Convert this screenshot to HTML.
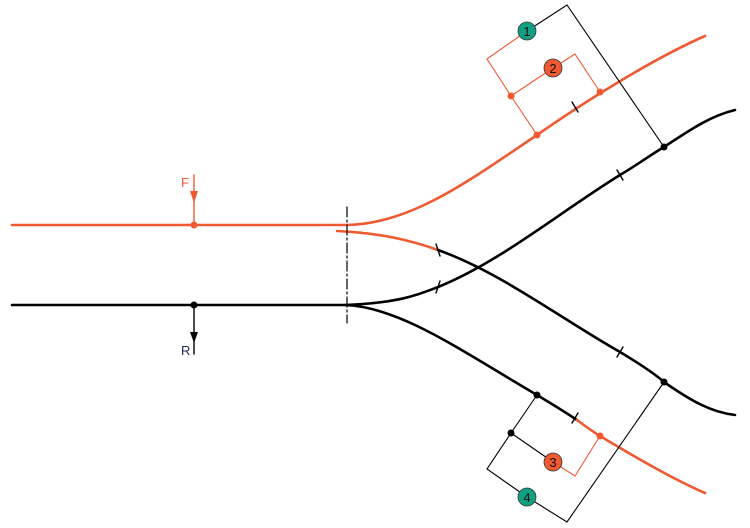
<!DOCTYPE html>
<html><head><style>html,body{margin:0;padding:0;background:#fff}svg{display:block}</style></head><body>
<svg width="750" height="528" viewBox="0 0 750 528" xmlns="http://www.w3.org/2000/svg" font-family="Liberation Sans, sans-serif">
<g fill="none" stroke-linecap="round">
<!-- main orange -->
<path d="M12,225 L345,225 C410,225 470,180 537,135 C580,105 650,60 705,36" stroke="#f05a32" stroke-width="2.6"/>
<path d="M337,231 C380,233 410,240 438,250" stroke="#f05a32" stroke-width="2.6"/>
<path d="M438,250 C500,272 560,318 620,352 C640,364 655,374 664,382 C690,400 710,412 735,415" stroke="#000" stroke-width="2.6"/>
<!-- black -->
<path d="M12,305 L345,305 C400,303 420,294 438,287 C500,262 560,212 620,175 C640,163 652,154 664,147 C690,130 710,116 735,110" stroke="#000" stroke-width="2.6"/>
<path d="M345,305 C400,307 460,350 537,395 C552,404 565,412 577,420" stroke="#000" stroke-width="2.6"/>
<path d="M577,420 C585,426 592,431 600,436 C640,460 675,480 705,493" stroke="#f05a32" stroke-width="2.6"/>
<!-- dash dot -->
<path d="M347,207 L347,323" stroke="#000" stroke-width="1.2" stroke-dasharray="10,3,2,3"/>
<!-- ticks -->
<g stroke="#000" stroke-width="1.4">
<path d="M436,244 L440,256"/><path d="M436,293 L440,281"/><path d="M572,102 L578,112"/>
<path d="M617,170 L623,180"/><path d="M617,357 L623,347"/><path d="M572,423 L578,413"/>
</g>
<!-- connectors -->
<path d="M527,31 L567,5 L664,147" stroke="#000" stroke-width="1.1"/>
<path d="M527,31 L487,59 L511,96 L537,135 M511,96 L553,68 L575,54 L600,92" stroke="#f05a32" stroke-width="1.1"/>
<path d="M537,395 L511,433 L487,469 L527,497 L567,522 L664,382 M511,433 L553,462" stroke="#000" stroke-width="1.1"/>
<path d="M553,462 L575,476 L600,436" stroke="#f05a32" stroke-width="1.1"/>
<!-- arrows -->
<path d="M194,175 L194,225" stroke="#f05a32" stroke-width="1.4"/>
<path d="M194,305 L194,354" stroke="#000" stroke-width="1.4"/>
</g>
<path d="M190,191 L198,191 L194,203 Z" fill="#f05a32"/>
<path d="M190,332 L198,332 L194,343 Z" fill="#000"/>
<text x="181" y="187" font-size="13" fill="#f05a32">F</text>
<text x="181" y="355" font-size="13" fill="#1a2a5a">R</text>
<!-- dots -->
<g fill="#f05a32"><circle cx="194" cy="225" r="3.5"/><circle cx="537" cy="135" r="3.5"/><circle cx="511" cy="96" r="3.5"/><circle cx="600" cy="92" r="3.5"/><circle cx="600" cy="436" r="3.5"/></g>
<g fill="#000"><circle cx="194" cy="305" r="3.5"/><circle cx="664" cy="147" r="3.5"/><circle cx="664" cy="382" r="3.5"/><circle cx="537" cy="395" r="3.5"/><circle cx="511" cy="433" r="3.5"/></g>
<!-- badges -->
<g stroke="#333" stroke-width="0.8" font-size="13" text-anchor="middle">
<circle cx="527" cy="31" r="9" fill="#12a085"/><circle cx="553" cy="68" r="9" fill="#f05a32"/>
<circle cx="553" cy="462" r="9" fill="#f05a32"/><circle cx="527" cy="497" r="9" fill="#12a085"/>
</g>
<g font-size="13" text-anchor="middle" fill="#111">
<text x="527" y="36">1</text><text x="553" y="73">2</text><text x="553" y="467">3</text><text x="527" y="502">4</text>
</g>
</svg>
</body></html>
